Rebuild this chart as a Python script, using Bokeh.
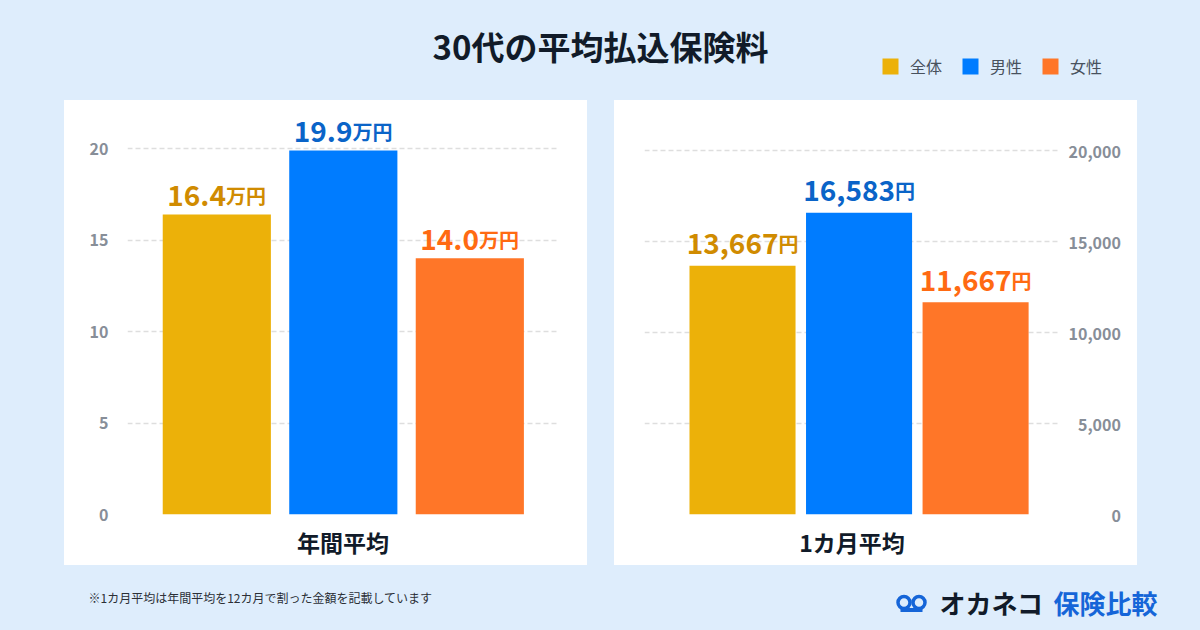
from bokeh.plotting import figure
from bokeh.layouts import column, row
from bokeh.models import Range1d, FixedTicker, NumeralTickFormatter, Label, ColumnDataSource, Div
from bokeh.embed import file_html
from bokeh.resources import INLINE
from bokeh.core.properties import value

# ---------------- data ----------------
TITLE = "30代の平均払込保険料"
groups = ["全体", "男性", "女性"]
annual_man = [16.4, 19.9, 14.0]          # 年間平均 (万円)
monthly_yen = [13667, 16583, 11667]      # 1カ月平均 (円)
annual_ticks = [0, 5, 10, 15, 20]
monthly_ticks = [0, 5000, 10000, 15000, 20000]
panel_titles = ["年間平均", "1カ月平均"]
units = ["万円", "円"]
footnote = "※1カ月平均は年間平均を12カ月で割った金額を記載しています"
brand = ["オカネコ", "保険比較"]

# ---------------- styles ----------------
FONT = "Noto Sans CJK JP"
BG = "#deedfc"
bar_colors = ["#ecb109", "#007cff", "#ff7628"]
label_colors = ["#d08b00", "#0a64c8", "#ff6a12"]
TICK_COLOR = "#878e98"
DARK = "#111b29"
NUM_SIZE = 28
UNIT_SIZE = 20


def text_w(s, size):
    w = 0.0
    for ch in s:
        if ch.isdigit():
            w += 0.6 * size
        elif ch in ".,":
            w += 0.28 * size
        else:
            w += 1.0 * size
    return w


def panel(vals, nums, unit, ticks, y_end, xr, bw, title, side, mbl, mbr, fmt, yoff):
    p = figure(width=523, height=465, x_range=Range1d(*xr), y_range=Range1d(0, y_end),
               output_backend="svg", toolbar_location=None, y_axis_location=side,
               min_border_left=mbl, min_border_right=mbr, min_border_top=8, min_border_bottom=51,
               background_fill_color="white", border_fill_color="white", outline_line_color=None)
    x = list(range(len(vals)))
    offs = [(text_w(n, NUM_SIZE) - text_w(unit, UNIT_SIZE)) / 2 for n in nums]
    src = ColumnDataSource(dict(x=x, top=vals, color=bar_colors, num=nums,
                                unit=[unit] * len(vals), tc=label_colors, off=offs))
    p.vbar(x="x", top="top", width=bw, fill_color="color", line_color=None, source=src)
    p.text(x="x", y="top", text="num", source=src, text_align="right", text_baseline="alphabetic",
           x_offset="off", y_offset=yoff, text_color="tc", text_font=value(FONT),
           text_font_size=f"{NUM_SIZE}px", text_font_style="bold")
    p.text(x="x", y="top", text="unit", source=src, text_align="left", text_baseline="alphabetic",
           x_offset="off", y_offset=yoff, text_color="tc", text_font=value(FONT),
           text_font_size=f"{UNIT_SIZE}px", text_font_style="bold")

    p.xgrid.visible = False
    p.ygrid.ticker = FixedTicker(ticks=ticks)
    p.ygrid.grid_line_color = "#dedede"
    p.ygrid.grid_line_width = 1.5
    p.ygrid.grid_line_dash = "5 3"

    ya = p.yaxis[0]
    ya.ticker = FixedTicker(ticks=ticks)
    ya.formatter = fmt
    ya.axis_line_color = None
    ya.major_tick_line_color = None
    ya.minor_tick_line_color = None
    ya.major_tick_out = 0
    ya.major_label_text_color = TICK_COLOR
    ya.major_label_text_font = FONT
    ya.major_label_text_font_size = "16px"
    ya.major_label_text_font_style = "bold"

    xa = p.xaxis[0]
    xa.ticker = FixedTicker(ticks=[])
    xa.axis_line_color = None
    xa.major_tick_line_color = None
    xa.minor_tick_line_color = None
    xa.major_tick_out = 0
    xa.major_label_standoff = 0
    xa.axis_label = title
    xa.axis_label_standoff = 10
    xa.axis_label_text_font = FONT
    xa.axis_label_text_font_size = "23px"
    xa.axis_label_text_font_style = "bold"
    xa.axis_label_text_color = DARK
    return p, ya


left, lya = panel(annual_man, [f"{v:.1f}" for v in annual_man], units[0], annual_ticks,
                  22.19, (-0.706, 2.701), 0.855, panel_titles[0], "left", 63, 29,
                  NumeralTickFormatter(format="0"), -19)
lya.major_label_standoff = 19

right, rya = panel(monthly_yen, [f"{v:,}" for v in monthly_yen], units[1], monthly_ticks,
                   22308, (-0.841, 2.72), 0.91, panel_titles[1], "right", 30, 78,
                   NumeralTickFormatter(format="0,0"), -22)
rya.major_label_standoff = 9
# right-align the right-hand tick labels by padding with figure / punctuation spaces
_lab = {t: f"{t:,}" for t in monthly_ticks}
_nd = max(sum(c.isdigit() for c in s) for s in _lab.values())
_nc = max(s.count(",") for s in _lab.values())
rya.major_label_overrides = {
    t: "\u2007" * (_nd - sum(c.isdigit() for c in s)) + "\u2008" * (_nc - s.count(",")) + s
    for t, s in _lab.items()
}


def blank(w, h):
    f = figure(width=w, height=h, x_range=Range1d(0, w), y_range=Range1d(0, h),
               x_axis_type=None, y_axis_type=None, output_backend="svg", toolbar_location=None,
               min_border=0, background_fill_color=BG, border_fill_color=BG, outline_line_color=None)
    f.xgrid.visible = False
    f.ygrid.visible = False
    return f


# ---- header: title + legend ----
top = blank(1200, 100)
for g, c in zip(groups, bar_colors):
    top.vbar(x=[0], top=[0], bottom=[0], width=0, fill_color=c, line_color=None, legend_label=g)
lg = top.legend[0]
lg.location = (880, 22)
lg.orientation = "horizontal"
lg.glyph_width = 20
lg.glyph_height = 20
lg.label_standoff = 10
lg.spacing = 18
lg.padding = 0
lg.margin = 0
lg.label_text_font = FONT
lg.label_text_font_size = "16px"
lg.label_text_color = "#48515d"
lg.background_fill_alpha = 0
lg.border_line_color = None
top.add_layout(Label(x=600, y=55, x_units="screen", y_units="screen", text=TITLE,
                     text_align="center", text_baseline="middle", text_font=FONT,
                     text_font_size="33px", text_font_style="bold", text_color=DARK))

# ---- footer: note + brand ----
bottom = blank(1200, 65)
bottom.add_layout(Label(x=88, y=33, x_units="screen", y_units="screen", text=footnote,
                        text_align="left", text_baseline="middle", text_font=FONT,
                        text_font_size="12px", text_color="#2b2f36"))
bottom.scatter(x=[903.5, 918.5], y=[28, 28], marker="circle", size=12, fill_color=None,
               line_color="#1565d8", line_width=3.5)
bottom.rect(x=[911], y=[20.5], width=22, height=4, fill_color="#1565d8", line_color=None)
bottom.add_layout(Label(x=939, y=28, x_units="screen", y_units="screen", text=brand[0],
                        text_align="left", text_baseline="middle", text_font=FONT,
                        text_font_size="26px", text_font_style="bold", text_color=DARK))
bottom.add_layout(Label(x=1053, y=28, x_units="screen", y_units="screen", text=brand[1],
                        text_align="left", text_baseline="middle", text_font=FONT,
                        text_font_size="26px", text_font_style="bold", text_color="#1565d8"))


def spacer(w, h):
    return Div(text="", width=w, height=h, margin=0, styles={"background-color": BG})


middle = row(spacer(64, 465), left, spacer(27, 465), right, spacer(63, 465),
             styles={"background-color": "white"})
layout = column(top, middle, bottom, styles={"background-color": BG})

open("out.html", "w").write(file_html(layout, INLINE))
